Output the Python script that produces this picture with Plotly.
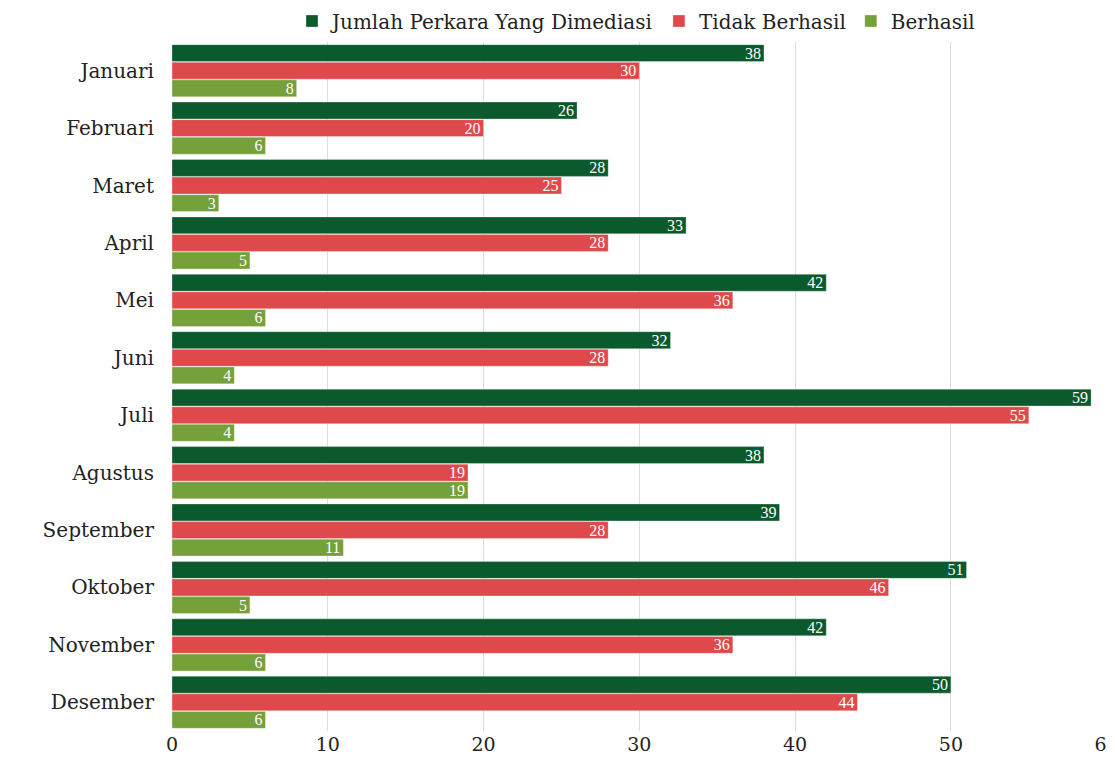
import plotly.graph_objects as go

months = ["Januari", "Februari", "Maret", "April", "Mei", "Juni", "Juli",
          "Agustus", "September", "Oktober", "November", "Desember"]
jumlah = [38, 26, 28, 33, 42, 32, 59, 38, 39, 51, 42, 50]
tidak_berhasil = [30, 20, 25, 28, 36, 28, 55, 19, 28, 46, 36, 44]
berhasil = [8, 6, 3, 5, 6, 4, 4, 19, 11, 5, 6, 6]
x_ticks = [0, 10, 20, 30, 40, 50, 60]

series = [
    ("Jumlah Perkara Yang Dimediasi", jumlah, "#0b5a2d"),
    ("Tidak Berhasil", tidak_berhasil, "#de4a4c"),
    ("Berhasil", berhasil, "#76a03a"),
]

SERIF = "DejaVu Serif, serif"
SERIF2 = "Liberation Serif, Times New Roman, serif"

fig = go.Figure()
for name, vals, color in series:
    fig.add_trace(go.Bar(
        y=months, x=vals, name=name, orientation="h",
        marker=dict(color=color, line=dict(color="rgba(255,255,255,0.6)", width=0.5)),
        text=vals, textposition="inside", insidetextanchor="end", textangle=0,
        textfont=dict(color="white", size=16, family=SERIF2),
        constraintext="none", cliponaxis=False,
    ))

W, H = 1107, 757
fig.update_layout(
    width=W, height=H,
    margin=dict(l=164, r=8, t=34, b=34),
    paper_bgcolor="white", plot_bgcolor="white",
    barmode="group", bargap=0.08, bargroupgap=0.04,
    font=dict(family=SERIF, color="#222222", size=18),
    legend=dict(orientation="h", xref="container", yref="container",
                x=628 / W, xanchor="center", y=1 - 13 / H, yanchor="middle",
                font=dict(size=20, family=SERIF), traceorder="normal"),
    showlegend=True,
)
fig.update_xaxes(range=[0, 60.02], tickvals=x_ticks, showgrid=True, gridcolor="#dddddd",
                 zeroline=False, showline=False, tickfont=dict(size=19),
                 ticklabeloverflow="allow", automargin=False)
fig.update_yaxes(autorange="reversed", showgrid=False, showline=False,
                 ticklabelstandoff=17, tickfont=dict(size=20), automargin=False)

fig.write_html("out.html")
